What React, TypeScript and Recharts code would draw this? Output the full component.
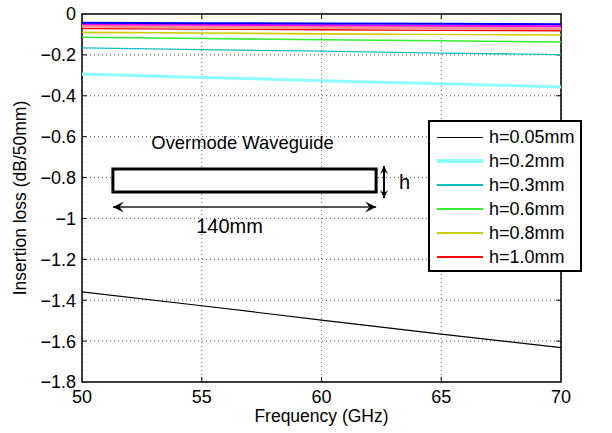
import React from 'react';
import {
  LineChart,
  Line,
  XAxis,
  YAxis,
  CartesianGrid,
  Legend,
  ReferenceArea,
  ReferenceLine,
} from 'recharts';

// frequency points (GHz)
const freqs = [50, 55, 60, 65, 70];

// insertion loss (dB/50mm) per waveguide height
const lossH005 = [-1.359, -1.427, -1.497, -1.566, -1.632];
const lossH02 = [-0.294, -0.31, -0.326, -0.341, -0.357];
const lossH03 = [-0.166, -0.174, -0.182, -0.191, -0.199];
const lossH06 = [-0.114, -0.12, -0.126, -0.131, -0.137];
const lossH08 = [-0.09, -0.093, -0.097, -0.1, -0.103];
const lossH10 = [-0.072, -0.074, -0.077, -0.08, -0.082];
// extra curves drawn but not in the legend
const lossPink = [-0.06, -0.063, -0.066, -0.069, -0.072];
const lossMagenta = [-0.05, -0.052, -0.055, -0.057, -0.06];
const lossBlue = [-0.043, -0.045, -0.046, -0.048, -0.05];

const xTicks = [50, 55, 60, 65, 70];
const yTicks = [0, -0.2, -0.4, -0.6, -0.8, -1, -1.2, -1.4, -1.6, -1.8];

const series = [
  { key: 'h005', name: 'h=0.05mm', values: lossH005, color: '#000000', width: 1.2, legendH: 1, legend: true },
  { key: 'h02', name: 'h=0.2mm', values: lossH02, color: '#8CFFFF', width: 3, legendH: 4, legend: true },
  { key: 'h03', name: 'h=0.3mm', values: lossH03, color: '#14BFBF', width: 1.3, legendH: 2, legend: true },
  { key: 'h06', name: 'h=0.6mm', values: lossH06, color: '#33EE33', width: 1.6, legendH: 2, legend: true },
  { key: 'h08', name: 'h=0.8mm', values: lossH08, color: '#CCCC00', width: 1.6, legendH: 2, legend: true },
  { key: 'h10', name: 'h=1.0mm', values: lossH10, color: '#FF0000', width: 1.3, legendH: 2, legend: true },
  { key: 'pk', name: 'pink', values: lossPink, color: '#FF9090', width: 3, legendH: 0, legend: false },
  { key: 'mg', name: 'magenta', values: lossMagenta, color: '#EE00EE', width: 2, legendH: 0, legend: false },
  { key: 'bl', name: 'blue', values: lossBlue, color: '#0000FF', width: 2, legendH: 0, legend: false },
];

const chartData = freqs.map((f, i) => {
  const row: Record<string, number> = { f };
  series.forEach((s) => {
    row[s.key] = s.values[i];
  });
  return row;
});

const FONT = '"Liberation Sans", Arial, Helvetica, sans-serif';

const fmtY = (v: number) => (v === 0 ? '0' : '\u2212' + String(parseFloat(Math.abs(v).toFixed(1))));

// double headed arrow drawn on a reference segment
const arrowShape = (head: number, lineColor: string) => (p: any) => {
  const { x1, y1, x2, y2 } = p;
  const a = Math.atan2(y2 - y1, x2 - x1);
  const w = head * 0.5;
  const tip = (x: number, y: number, ang: number) => {
    const c = Math.cos(ang);
    const s = Math.sin(ang);
    const bx = x - head * c;
    const by = y - head * s;
    const nx = x - head * 0.6 * c;
    const ny = y - head * 0.6 * s;
    return `${x},${y} ${bx - w * s},${by + w * c} ${nx},${ny} ${bx + w * s},${by - w * c}`;
  };
  return (
    <g>
      <line x1={x1} y1={y1} x2={x2} y2={y2} stroke={lineColor} strokeWidth={2} />
      <polygon points={tip(x2, y2, a)} fill="#000" />
      <polygon points={tip(x1, y1, a + Math.PI)} fill="#000" />
    </g>
  );
};

const ROW = 24;

const LegendBox = () => (
  <div
    style={{
      border: '2px solid #000',
      background: '#fff',
      width: 154,
      height: 152,
      boxSizing: 'border-box',
      paddingTop: 3,
      fontFamily: FONT,
      fontSize: 18,
      color: '#000',
    }}
  >
    {series
      .filter((s) => s.legend)
      .map((s) => (
        <div key={s.key} style={{ display: 'flex', alignItems: 'flex-start', height: ROW }}>
          <div
            style={{
              width: 46,
              height: s.legendH,
              background: s.color,
              marginLeft: 7,
              marginTop: Math.round((ROW - s.legendH) / 2),
            }}
          />
          <span style={{ marginLeft: 6, lineHeight: `${ROW}px` }}>{s.name}</span>
        </div>
      ))}
  </div>
);

export default function App() {
  const xTickLen = 0.2;
  const yTickLen = 0.025;
  return (
    <div style={{ width: 612, height: 433, background: '#fff' }}>
      <style>{'body{margin:0}'}</style>
      <LineChart
        width={612}
        height={433}
        data={chartData}
        margin={{ top: 14, right: 51, left: 0, bottom: 0 }}
        style={{ fontFamily: FONT }}
      >
        <CartesianGrid stroke="#333" strokeDasharray="1 3" strokeWidth={0.8} />
        <XAxis
          dataKey="f"
          type="number"
          domain={[50, 70]}
          ticks={xTicks}
          height={51}
          axisLine={false}
          tickLine={false}
          tickSize={0}
          tickMargin={8}
          tick={{ fontSize: 18, fill: '#000' }}
          label={{ value: 'Frequency (GHz)', position: 'insideBottom', offset: 11, fontSize: 17.5, fill: '#000' }}
        />
        <YAxis
          type="number"
          domain={[-1.8, 0]}
          ticks={yTicks}
          width={82}
          axisLine={false}
          tickLine={false}
          tickSize={0}
          tickMargin={6}
          tickFormatter={fmtY}
          tick={{ fontSize: 18, fill: '#000' }}
          label={{
            value: 'Insertion loss (dB/50mm)',
            angle: -90,
            position: 'insideLeft',
            offset: 25,
            dx: -5,
            fontSize: 17.5,
            fill: '#000',
            style: { textAnchor: 'middle' },
          }}
        />
        {/* inward tick marks on all four sides */}
        {xTicks.slice(1, -1).map((t) => (
          <ReferenceLine key={`xb${t}`} segment={[{ x: t, y: -1.8 }, { x: t, y: -1.8 + yTickLen }]} stroke="#000" />
        ))}
        {xTicks.slice(1, -1).map((t) => (
          <ReferenceLine key={`xt${t}`} segment={[{ x: t, y: 0 }, { x: t, y: -yTickLen }]} stroke="#000" />
        ))}
        {yTicks.slice(1, -1).map((t) => (
          <ReferenceLine key={`yl${t}`} segment={[{ x: 50, y: t }, { x: 50 + xTickLen, y: t }]} stroke="#000" />
        ))}
        {yTicks.slice(1, -1).map((t) => (
          <ReferenceLine key={`yr${t}`} segment={[{ x: 70, y: t }, { x: 70 - xTickLen, y: t }]} stroke="#000" />
        ))}
        {series.map((s) => (
          <Line
            key={s.key}
            dataKey={s.key}
            name={s.name}
            stroke={s.color}
            strokeWidth={s.width}
            dot={false}
            activeDot={false}
            legendType={s.legend ? 'line' : 'none'}
            isAnimationActive={false}
          />
        ))}
        {/* waveguide sketch */}
        <ReferenceArea
          x1={51.29}
          x2={62.28}
          y1={-0.871}
          y2={-0.758}
          fill="#fff"
          fillOpacity={1}
          stroke="#000"
          strokeWidth={3}
          label={{ value: 'Overmode Waveguide', position: 'top', offset: 20, dx: -2, fontSize: 18.4, fill: '#000' }}
        />
        <ReferenceLine
          segment={[{ x: 51.29, y: -0.944 }, { x: 62.28, y: -0.944 }]}
          shape={arrowShape(11, '#555')}
          label={{ value: '140mm', position: 'bottom', offset: 12, dx: -15, fontSize: 20, fill: '#000' }}
        />
        <ReferenceLine
          segment={[{ x: 62.61, y: -0.744 }, { x: 62.61, y: -0.9 }]}
          shape={arrowShape(8, '#000')}
          label={{ value: 'h', position: 'right', offset: 15, fontSize: 20, fill: '#000' }}
        />
        <ReferenceArea x1={50} x2={70} y1={-1.8} y2={0} fill="none" stroke="#000" strokeWidth={1.5} />
        <Legend
          layout="vertical"
          align="center"
          verticalAlign="middle"
          content={() => <LegendBox />}
          wrapperStyle={{ position: 'absolute', left: 428, top: 120, width: 154, height: 152 }}
        />
      </LineChart>
    </div>
  );
}
